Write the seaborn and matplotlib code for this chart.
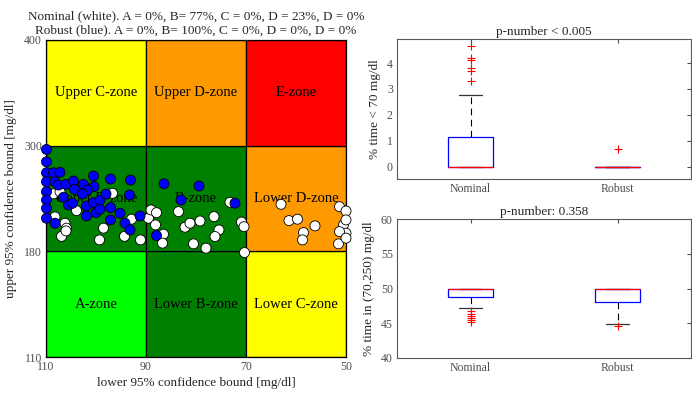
import numpy as np
import pandas as pd
import matplotlib
matplotlib.use("Agg")
import matplotlib.pyplot as plt
from matplotlib.patches import Rectangle
import seaborn as sns

# ---- CVGA points: (lower 95% bound, upper 95% bound) in mg/dl ----
nominal_lower = [108.5, 108.2, 106.2, 105.9, 106.9, 106.0, 103.9, 99.3, 98.5, 96.7,
                 94.3, 92.9, 91.1, 89.5, 107.2, 89.0, 87.9, 88.1, 83.5, 82.2,
                 81.2, 79.2, 76.4, 75.4, 76.2, 80.5, 78.0, 73.2, 70.9, 70.4,
                 70.3, 86.5, 86.7, 63.0, 61.4, 59.7, 56.2, 58.5, 58.7, 51.3,
                 50.0, 50.5, 50.0, 51.3, 51.5, 50.0, 50.0]
nominal_upper = [245.3, 219.1, 211.9, 206.3, 197.0, 203.2, 226.2, 193.0, 206.3, 245.9,
                 197.0, 216.5, 193.0, 217.6, 247.7, 227.0, 223.9, 210.0, 225.1, 207.4,
                 211.9, 214.5, 219.4, 204.3, 196.8, 188.5, 183.6, 235.7, 213.2, 208.0,
                 179.2, 199.5, 189.3, 233.4, 214.9, 216.5, 208.9, 201.3, 193.0, 230.7,
                 225.8, 210.0, 200.6, 202.4, 188.5, 195.0, 215.7]

robust_lower = [109.9, 109.9, 109.9, 109.9, 109.9, 109.9, 109.9, 109.9,
                108.5, 107.2, 108.2, 107.5, 106.0, 104.5, 104.3, 102.5, 100.5, 100.4,
                101.7, 102.7, 106.5, 105.5, 104.7, 101.9, 100.5, 99.2, 98.0, 97.1,
                93.1, 93.3, 101.9, 100.0, 99.2, 97.1, 95.2, 97.1, 94.2, 93.2,
                91.2, 108.2, 86.4, 79.4, 83.0, 72.2, 87.9]
robust_upper = [295.7, 281.7, 269.2, 259.0, 247.7, 238.3, 228.9, 217.6,
                269.2, 269.7, 259.0, 255.3, 256.1, 259.8, 250.4, 256.1, 265.5, 253.4,
                249.6, 245.1, 241.4, 232.6, 234.6, 231.5, 235.3, 238.3, 245.1, 262.1,
                260.9, 244.0, 220.2, 223.9, 227.8, 229.6, 223.2, 215.7, 211.9, 204.3,
                220.2, 211.9, 256.8, 254.2, 238.3, 234.6, 197.9]

# grid breakpoints of the CVGA
x_breaks = [110, 90, 70, 50]
y_breaks = [110, 180, 300, 400]
x_tick_labels = ["110", "90", "70", "50"]
y_tick_labels = ["110", "180", "300", "400"]

# zone names and colours, rows from bottom to top, columns left to right
zone_names = [["A-zone", "Lower B-zone", "Lower C-zone"],
              ["Upper B-zone", "B-zone", "Lower D-zone"],
              ["Upper C-zone", "Upper D-zone", "E-zone"]]
zone_colors = [["#00ff00", "#008000", "#ffff00"],
               ["#008000", "#008000", "#ff9900"],
               ["#ffff00", "#ff9900", "#ff0000"]]

# ---- box plot summaries ----
groups = ["Nominal", "Robust"]
hypo_q1 = [0.0, 0.0]
hypo_med = [0.0, 0.0]
hypo_q3 = [1.16, 0.0]
hypo_lo = [0.0, 0.0]
hypo_hi = [2.77, 0.0]
hypo_fliers = [[3.29, 3.71, 3.81, 4.10, 4.19, 4.67], [0.68]]

range_q1 = [48.8, 48.0]
range_med = [50.0, 50.0]
range_q3 = [50.0, 50.0]
range_lo = [47.24, 44.94]
range_hi = [50.0, 50.0]
range_fliers = [[46.7, 46.3, 46.0, 45.8, 45.5, 45.2], [44.6]]

sns.set_style("white")
plt.rcParams["font.family"] = ["Liberation Serif", "DejaVu Serif"]
plt.rcParams["mathtext.fontset"] = "stix"


def to_grid_x(v):
    return np.interp(v, x_breaks[::-1], [3, 2, 1, 0])


def to_grid_y(v):
    return np.interp(v, y_breaks, [0, 1, 2, 3])


fig = plt.figure(figsize=(6.92, 3.93), dpi=100)
W, H = 692, 393
ax = fig.add_axes([46 / W, 1 - 357 / H, 300 / W, 317 / H])
ax1 = fig.add_axes([397 / W, 1 - 179 / H, 294 / W, 140 / H])
ax2 = fig.add_axes([397 / W, 1 - 358 / H, 294 / W, 139 / H])

# ---- CVGA grid ----
for r in range(3):
    for c in range(3):
        ax.add_patch(Rectangle((c, r), 1, 1, facecolor=zone_colors[r][c],
                               edgecolor="black", lw=0.9, zorder=1))
        ax.text(c + 0.5, r + 0.5, zone_names[r][c], ha="center", va="center",
                fontsize=10.5, color="black", zorder=2)

df = pd.DataFrame({
    "x": np.concatenate([to_grid_x(nominal_lower), to_grid_x(robust_lower)]),
    "y": np.concatenate([to_grid_y(nominal_upper), to_grid_y(robust_upper)]),
    "controller": ["Nominal"] * len(nominal_lower) + ["Robust"] * len(robust_lower),
})
sns.scatterplot(data=df, x="x", y="y", hue="controller",
                palette={"Nominal": "white", "Robust": "#0000ff"},
                s=52, edgecolor="black", linewidth=0.6, legend=False,
                ax=ax, zorder=3)
for coll in ax.collections:
    coll.set_clip_on(False)

ax.set_xlim(0, 3)
ax.set_ylim(0, 3)
ax.set_xticks([0, 1, 2, 3])
ax.set_xticklabels(x_tick_labels)
ax.set_yticks([0, 1, 2, 3])
ax.set_yticklabels(y_tick_labels)
ax.tick_params(length=0, labelsize=8.5, labelcolor="0.3", pad=3)
for sp in ax.spines.values():
    sp.set_color("black")
    sp.set_linewidth(0.9)
ax.set_xlabel("lower 95% confidence bound [mg/dl]", fontsize=9.5, labelpad=3)
ax.set_ylabel("upper 95% confidence bound [mg/dl]", fontsize=9.5, labelpad=5)
ax.set_title("Nominal (white). A = 0%, B= 77%, C = 0%, D = 23%, D = 0%\n"
             "Robust (blue). A = 0%, B= 100%, C = 0%, D = 0%, D = 0%",
             fontsize=9.5, pad=5, linespacing=1.2)


def draw_box(axis, q1, med, q3, lo, hi, fliers):
    stats = []
    for i, g in enumerate(groups):
        stats.append(dict(label=g, q1=q1[i], med=med[i], q3=q3[i],
                          whislo=lo[i], whishi=hi[i], fliers=fliers[i]))
    axis.bxp(stats, positions=[1, 2], widths=0.305, capwidths=0.154,
             boxprops=dict(color="#0000ff", lw=0.9),
             medianprops=dict(color="#ff0000", lw=0.9),
             whiskerprops=dict(color="black", lw=0.8, ls=(0, (6, 4))),
             capprops=dict(color="0.2", lw=0.9),
             flierprops=dict(marker="+", markeredgecolor="#ff0000",
                             markersize=6, markeredgewidth=0.8))
    axis.set_xlim(0.5, 2.5)
    axis.set_xticks([1, 2])
    axis.set_xticklabels(groups)
    axis.tick_params(direction="in", length=3, top=True, right=True,
                     labelsize=8.5, labelcolor="0.3", color="0.3", pad=3)
    for sp in axis.spines.values():
        sp.set_color("0.35")
        sp.set_linewidth(0.8)


draw_box(ax1, hypo_q1, hypo_med, hypo_q3, hypo_lo, hypo_hi, hypo_fliers)
ax1.set_ylim(-0.48, 4.93)
ax1.set_yticks([0, 1, 2, 3, 4])
ax1.set_ylabel("% time < 70 mg/dl", fontsize=9.5, labelpad=4)
ax1.set_title("p-number < 0.005", fontsize=9.5, pad=3)

draw_box(ax2, range_q1, range_med, range_q3, range_lo, range_hi, range_fliers)
ax2.set_ylim(40, 60)
ax2.set_yticks([40, 45, 50, 55, 60])
ax2.set_ylabel("% time in (70,250) mg/dl", fontsize=9.5, labelpad=4)
ax2.set_title("p-number: 0.358", fontsize=9.5, pad=3)

fig.savefig("out.png", dpi=100)
